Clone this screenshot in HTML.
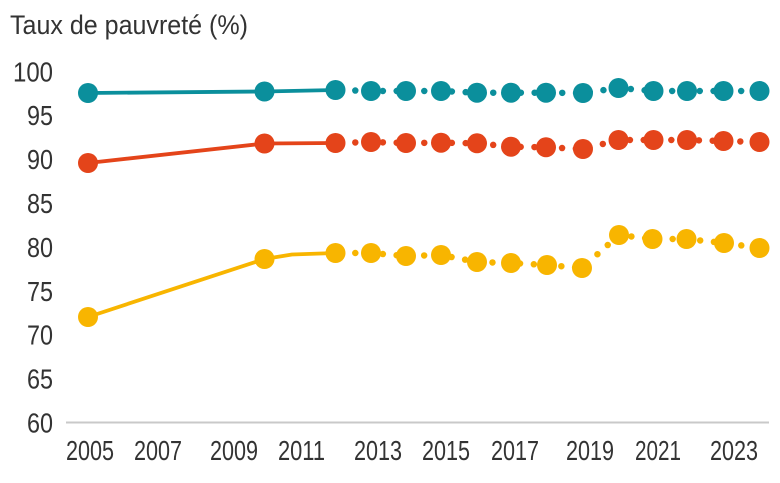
<!DOCTYPE html>
<html>
<head>
<meta charset="utf-8">
<style>
  html, body { margin: 0; padding: 0; background: #ffffff; }
  body { width: 780px; height: 483px; overflow: hidden; }
  svg { display: block; }
  text { font-family: "Liberation Sans", sans-serif; fill: #333333; }
</style>
</head>
<body>
<svg width="780" height="483" viewBox="0 0 780 483" xmlns="http://www.w3.org/2000/svg">
  <rect width="780" height="483" fill="#ffffff"/>

  <!-- Title -->
  <text x="10" y="34" font-size="27" textLength="238" lengthAdjust="spacingAndGlyphs">Taux de pauvreté (%)</text>

  <!-- Y axis labels -->
  <g font-size="28">
    <text x="13" y="81.3" textLength="40" lengthAdjust="spacingAndGlyphs">100</text>
    <text x="27" y="125.2" textLength="26" lengthAdjust="spacingAndGlyphs">95</text>
    <text x="27" y="169.1" textLength="26" lengthAdjust="spacingAndGlyphs">90</text>
    <text x="27" y="213" textLength="26" lengthAdjust="spacingAndGlyphs">85</text>
    <text x="27" y="256.9" textLength="26" lengthAdjust="spacingAndGlyphs">80</text>
    <text x="27" y="300.8" textLength="26" lengthAdjust="spacingAndGlyphs">75</text>
    <text x="27" y="344.7" textLength="26" lengthAdjust="spacingAndGlyphs">70</text>
    <text x="27" y="388.6" textLength="26" lengthAdjust="spacingAndGlyphs">65</text>
    <text x="27" y="432.5" textLength="26" lengthAdjust="spacingAndGlyphs">60</text>
  </g>

  <!-- Baseline gridline -->
  <line x1="66" y1="422.5" x2="769" y2="422.5" stroke="#c9c9c9" stroke-width="2"/>

  <!-- X axis labels -->
  <g font-size="28">
    <text x="66" y="460" textLength="48" lengthAdjust="spacingAndGlyphs">2005</text>
    <text x="134" y="460" textLength="48" lengthAdjust="spacingAndGlyphs">2007</text>
    <text x="210" y="460" textLength="48" lengthAdjust="spacingAndGlyphs">2009</text>
    <text x="278" y="460" textLength="47" lengthAdjust="spacingAndGlyphs">2011</text>
    <text x="354" y="460" textLength="48" lengthAdjust="spacingAndGlyphs">2013</text>
    <text x="422" y="460" textLength="48" lengthAdjust="spacingAndGlyphs">2015</text>
    <text x="491" y="460" textLength="48" lengthAdjust="spacingAndGlyphs">2017</text>
    <text x="566" y="460" textLength="48" lengthAdjust="spacingAndGlyphs">2019</text>
    <text x="635" y="460" textLength="46" lengthAdjust="spacingAndGlyphs">2021</text>
    <text x="710" y="460" textLength="48" lengthAdjust="spacingAndGlyphs">2023</text>
  </g>

  <!-- Teal series -->
  <g fill="#0b8f9c" stroke="#0b8f9c">
    <polyline fill="none" stroke-width="3.8" stroke-linejoin="round" points="88,93 264.5,91.5 335.5,90"/>
    <polyline fill="none" stroke-width="6.5" stroke-linecap="round" stroke-dasharray="0 13.8" stroke-dashoffset="-6"
      points="335.5,90 371,91 406,91 441,91 477,92.7 511,92.7 546,92.7 583,93 618.5,88 653.5,91 687,91 723.5,91 759.5,91"/>
    <g stroke="none">
      <circle cx="88" cy="93" r="10"/>
      <circle cx="264.5" cy="91.5" r="10"/>
      <circle cx="335.5" cy="90" r="10"/>
      <circle cx="371" cy="91" r="10"/>
      <circle cx="406" cy="91" r="10"/>
      <circle cx="441" cy="91" r="10"/>
      <circle cx="477" cy="92.7" r="10"/>
      <circle cx="511" cy="92.7" r="10"/>
      <circle cx="546" cy="92.7" r="10"/>
      <circle cx="583" cy="93" r="10"/>
      <circle cx="618.5" cy="88" r="10"/>
      <circle cx="653.5" cy="91" r="10"/>
      <circle cx="687" cy="91" r="10"/>
      <circle cx="723.5" cy="91" r="10"/>
      <circle cx="759.5" cy="91" r="10"/>
    </g>
  </g>

  <!-- Red series -->
  <g fill="#e4441a" stroke="#e4441a">
    <polyline fill="none" stroke-width="3.8" stroke-linejoin="round" points="88,163 264.5,143.5 335.5,143"/>
    <polyline fill="none" stroke-width="6.5" stroke-linecap="round" stroke-dasharray="0 13.8" stroke-dashoffset="-6"
      points="335.5,143 371,142 406,143 441,142.7 477,143.3 511,146.7 546,147.3 583,149 618.5,140 653.5,140 687,140 723.5,141 759.5,142"/>
    <g stroke="none">
      <circle cx="88" cy="163" r="10"/>
      <circle cx="264.5" cy="143.5" r="10"/>
      <circle cx="335.5" cy="143" r="10"/>
      <circle cx="371" cy="142" r="10"/>
      <circle cx="406" cy="143" r="10"/>
      <circle cx="441" cy="142.7" r="10"/>
      <circle cx="477" cy="143.3" r="10"/>
      <circle cx="511" cy="146.7" r="10"/>
      <circle cx="546" cy="147.3" r="10"/>
      <circle cx="583" cy="149" r="10"/>
      <circle cx="618.5" cy="140" r="10"/>
      <circle cx="653.5" cy="140" r="10"/>
      <circle cx="687" cy="140" r="10"/>
      <circle cx="723.5" cy="141" r="10"/>
      <circle cx="759.5" cy="142" r="10"/>
    </g>
  </g>

  <!-- Yellow series -->
  <g fill="#f8b500" stroke="#f8b500">
    <polyline fill="none" stroke-width="3.8" stroke-linejoin="round" points="88,317 264.5,259 292,254.5 335.5,253"/>
    <polyline fill="none" stroke-width="6.5" stroke-linecap="round" stroke-dasharray="0 13.8" stroke-dashoffset="-6"
      points="335.5,253 371,253 406,256 441,255 477,262 511,263 547,265 582,268 619,235 652.5,239 686.5,239 724,243 759.5,248"/>
    <g stroke="none">
      <circle cx="88" cy="317" r="10"/>
      <circle cx="264.5" cy="259" r="10"/>
      <circle cx="335.5" cy="253" r="10"/>
      <circle cx="371" cy="253" r="10"/>
      <circle cx="406" cy="256" r="10"/>
      <circle cx="441" cy="255" r="10"/>
      <circle cx="477" cy="262" r="10"/>
      <circle cx="511" cy="263" r="10"/>
      <circle cx="547" cy="265" r="10"/>
      <circle cx="582" cy="268" r="10"/>
      <circle cx="619" cy="235" r="10"/>
      <circle cx="652.5" cy="239" r="10"/>
      <circle cx="686.5" cy="239" r="10"/>
      <circle cx="724" cy="243" r="10"/>
      <circle cx="759.5" cy="248" r="10"/>
    </g>
  </g>
</svg>
</body>
</html>
